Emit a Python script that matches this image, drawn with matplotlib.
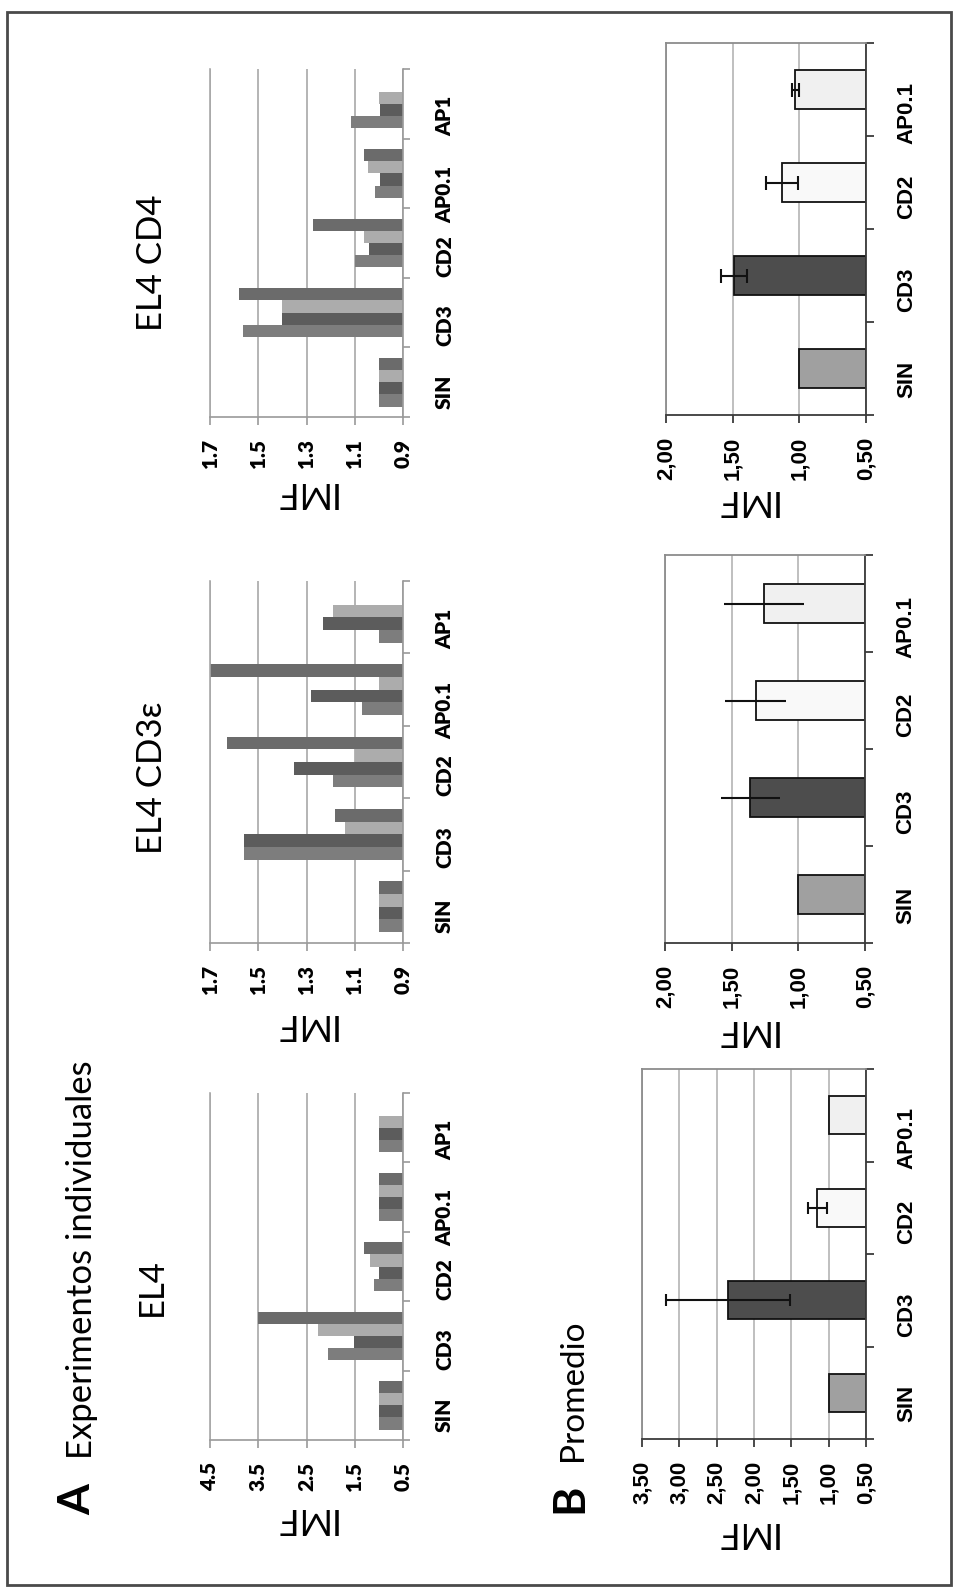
import numpy as np
import matplotlib
matplotlib.use("Agg")
import matplotlib.pyplot as plt
from matplotlib.patches import Rectangle
from matplotlib.ticker import FuncFormatter

# ---------------- data ----------------
categories_A = ["SIN", "CD3", "CD2", "AP0.1", "AP1"]
nan = np.nan

# EL4 (four individual experiments)
el4_exp1 = [1.00, 2.05, 1.11, 1.00, 1.00]
el4_exp2 = [1.00, 1.52, 1.00, 1.00, 1.00]
el4_exp3 = [1.00, 2.26, 1.18, 1.00, 1.00]
el4_exp4 = [1.00, 3.50, 1.31, 1.00, nan]
el4_ticks = [0.5, 1.5, 2.5, 3.5, 4.5]

# EL4 CD3e
cd3e_exp1 = [1.00, 1.56, 1.19, 1.07, 1.00]
cd3e_exp2 = [1.00, 1.56, 1.35, 1.28, 1.23]
cd3e_exp3 = [1.00, 1.14, 1.10, 1.00, 1.19]
cd3e_exp4 = [1.00, 1.18, 1.63, 1.70, nan]
cd3e_ticks = [0.9, 1.1, 1.3, 1.5, 1.7]

# EL4 CD4
cd4_exp1 = [1.00, 1.565, 1.10, 1.015, 1.117]
cd4_exp2 = [1.00, 1.40, 1.04, 0.995, 0.995]
cd4_exp3 = [1.00, 1.40, 1.06, 1.045, 1.00]
cd4_exp4 = [1.00, 1.58, 1.275, 1.063, nan]
cd4_ticks = [0.9, 1.1, 1.3, 1.5, 1.7]

# Promedio
categories_B = ["SIN", "CD3", "CD2", "AP0.1"]
avg_el4 = [1.00, 2.35, 1.15, 1.00]
err_el4 = [0.00, 0.83, 0.13, 0.00]
avg_cd3e = [1.00, 1.36, 1.32, 1.26]
err_cd3e = [0.00, 0.22, 0.23, 0.30]
avg_cd4 = [1.00, 1.49, 1.13, 1.03]
err_cd4 = [0.00, 0.10, 0.12, 0.025]
ticks_B_el4 = [0.5, 1.0, 1.5, 2.0, 2.5, 3.0, 3.5]
ticks_B_small = [0.5, 1.0, 1.5, 2.0]

colors_A = ["#7d7d7d", "#5c5c5c", "#acacac", "#6b6b6b"]
colors_B = ["#a0a0a0", "#4d4d4d", "#f9f9f9", "#f0f0f0"]

# ---------------- figure ----------------
W, H = 957, 1591
fig = plt.figure(figsize=(W / 100, H / 100), dpi=100)
CAL = ["Lato", "DejaVu Sans"]
ARI = ["Liberation Sans", "DejaVu Sans"]


def add_ax(x0, y0, x1, y1):
    return fig.add_axes([x0 / W, 1 - y1 / H, (x1 - x0) / W, (y1 - y0) / H])


def ftext(x, y, s, **kw):
    fig.text(x / W, 1 - y / H, s, ha="center", va="center", **kw)


def panel_A(ax, series, ticks):
    n = len(categories_A)
    y = np.arange(n)
    h = 0.175
    lo, hi = min(ticks), max(ticks)
    for i, (vals, col) in enumerate(zip(series, colors_A)):
        v = np.asarray(vals, float)
        ax.barh(y + (i - 1.5) * h, v - lo, left=lo, height=h, color=col,
                linewidth=0, zorder=2)
    ax.set_xlim(hi, lo)
    ax.set_ylim(-0.5, n - 0.5)
    ax.set_xticks(ticks)
    ax.set_xticklabels([f"{t:.1f}" for t in ticks])
    ax.xaxis.grid(True, color="#a8a8a8", lw=1.2, zorder=0)
    ax.set_axisbelow(True)
    ax.spines["top"].set_visible(False)
    ax.spines["left"].set_color("#a8a8a8")
    ax.spines["right"].set_color("#9a9a9a")
    ax.spines["bottom"].set_color("#9a9a9a")
    for s in ["left", "right", "bottom"]:
        ax.spines[s].set_linewidth(1.2)
    ax.yaxis.tick_right()
    ax.set_yticks(y)
    ax.set_yticklabels(categories_A)
    ax.set_yticks(np.arange(n + 1) - 0.5, minor=True)
    ax.tick_params(axis="y", which="major", length=0, pad=23, labelrotation=90)
    ax.tick_params(axis="y", which="minor", length=5, width=1.2, color="#9a9a9a",
                   direction="out")
    ax.tick_params(axis="x", length=6, width=1.2, color="#9a9a9a", direction="out",
                   pad=10, labelrotation=90)
    for lab in ax.get_xticklabels() + ax.get_yticklabels():
        lab.set_fontfamily(CAL)
        lab.set_fontweight("heavy")
        lab.set_fontsize(15)


def panel_B(ax, means, errs, ticks, caps):
    n = len(categories_B)
    y = np.arange(n)
    lo, hi = min(ticks), max(ticks)
    m = np.asarray(means, float)
    e = np.asarray(errs, float)
    ax.barh(y, m - lo, left=lo, height=0.41, color=colors_B, edgecolor="#111111",
            linewidth=1.3, zorder=2)
    k = e > 0
    ax.errorbar(m[k], y[k], xerr=e[k], fmt="none", ecolor="#111111",
                elinewidth=1.5, capsize=caps, capthick=1.5, zorder=3)
    ax.set_xlim(hi, lo)
    ax.set_ylim(-0.5, n - 0.5)
    ax.set_xticks(ticks)
    ax.xaxis.set_major_formatter(FuncFormatter(lambda v, p: f"{v:.2f}".replace(".", ",")))
    ax.xaxis.grid(True, color="#b4b4b4", lw=1.2, zorder=0)
    ax.set_axisbelow(True)
    ax.spines["top"].set_color("#8c8c8c")
    ax.spines["left"].set_color("#8c8c8c")
    ax.spines["right"].set_color("#3a3a3a")
    ax.spines["bottom"].set_color("#3a3a3a")
    for s in ax.spines.values():
        s.set_linewidth(1.3)
    ax.yaxis.tick_right()
    ax.set_yticks(y)
    ax.set_yticklabels(categories_B)
    ax.set_yticks(np.arange(n + 1) - 0.5, minor=True)
    ax.tick_params(axis="y", which="major", length=0, pad=22, labelrotation=90)
    ax.tick_params(axis="y", which="minor", length=6, width=1.3, color="#3a3a3a",
                   direction="out")
    ax.tick_params(axis="x", length=6, width=1.3, color="#3a3a3a", direction="out",
                   pad=10, labelrotation=90)
    for lab in ax.get_xticklabels() + ax.get_yticklabels():
        lab.set_fontfamily(ARI)
        lab.set_fontweight("bold")
        lab.set_fontsize(16)


# Row A (left column)
axA1 = add_ax(210, 1093, 403, 1440)
panel_A(axA1, [el4_exp1, el4_exp2, el4_exp3, el4_exp4], el4_ticks)
axA2 = add_ax(210, 581, 403, 943)
panel_A(axA2, [cd3e_exp1, cd3e_exp2, cd3e_exp3, cd3e_exp4], cd3e_ticks)
axA3 = add_ax(210, 69, 403, 417)
panel_A(axA3, [cd4_exp1, cd4_exp2, cd4_exp3, cd4_exp4], cd4_ticks)

# Row B (right column)
axB1 = add_ax(642, 1069, 866, 1439)
panel_B(axB1, avg_el4, err_el4, ticks_B_el4, 4.5)
axB2 = add_ax(665, 555, 865, 943)
panel_B(axB2, avg_cd3e, err_cd3e, ticks_B_small, 0)
axB3 = add_ax(666, 43, 866, 415)
panel_B(axB3, avg_cd4, err_cd4, ticks_B_small, 5)

# Texts
ftext(77, 1500, "A", rotation=90, fontsize=32, fontweight="bold", family=CAL)
ftext(82, 1260, "Experimentos individuales", rotation=90, fontsize=25, family=CAL)
ftext(152, 1287, "EL4", rotation=90, fontsize=25, family=CAL)
ftext(152, 778, "EL4 CD3ε", rotation=90, fontsize=25, family=CAL)
ftext(152, 263, "EL4 CD4", rotation=90, fontsize=25, family=CAL)
ftext(569, 1498, "B", rotation=90, fontsize=32, fontweight="bold", family=CAL)
ftext(573, 1390, "Promedio", rotation=90, fontsize=24, family=CAL)

for (x, y) in [(304, 1518), (304, 1025), (304, 492), (745, 1532), (745, 1030), (745, 500)]:
    ftext(x, y, "IMF", rotation=180, fontsize=26, family=CAL)

# outer frame
fig.patches.append(Rectangle((7 / W, 1 - 1585 / H), (951 - 7) / W, (1585 - 12) / H,
                             transform=fig.transFigure, fill=False,
                             edgecolor="#4a4a4a", linewidth=2))

fig.savefig("out.png", dpi=100, facecolor="white")
